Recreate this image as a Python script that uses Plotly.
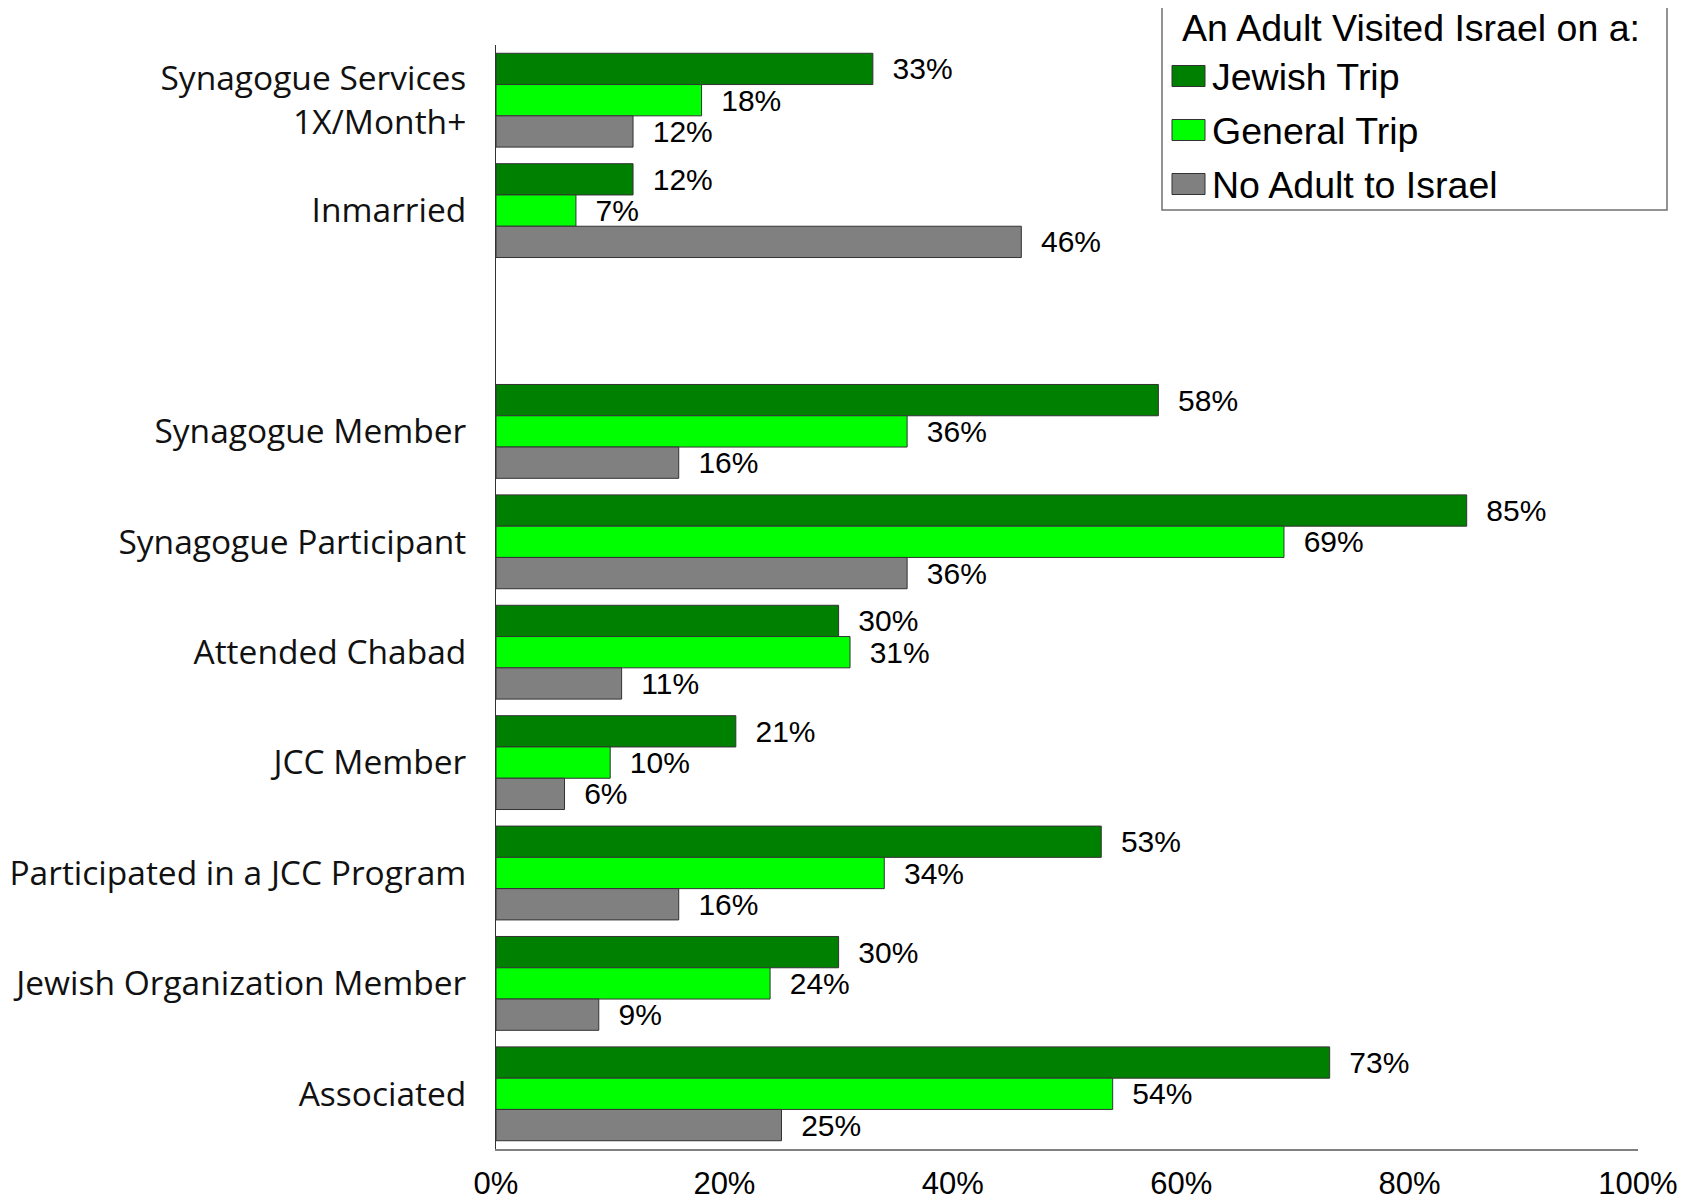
import plotly.graph_objects as go

categories = ["Synagogue Services<br>1X/Month+", "Inmarried", " ",
              "Synagogue Member", "Synagogue Participant", "Attended Chabad",
              "JCC Member", "Participated in a JCC Program",
              "Jewish Organization Member", "Associated"]
jewish_trip = [33, 12, None, 58, 85, 30, 21, 53, 30, 73]
general_trip = [18, 7, None, 36, 69, 31, 10, 34, 24, 54]
no_adult = [12, 46, None, 16, 36, 11, 6, 16, 9, 25]
series_names = ["Jewish Trip", "General Trip", "No Adult to Israel"]
legend_title = "An Adult Visited Israel on a:"
colors = ["#008000", "#00FF00", "#808080"]
x_ticks = [0, 20, 40, 60, 80, 100]

# page has an 8px body margin; figure drawn at (8, 8)
OFF = 8
W, H = 1694 - OFF, 1200 - OFF
PL, PR, PT, PB = 496 - OFF, 1638 - OFF, 45 - OFF, 1149 - OFF  # plot area in figure px


def px_x(x):  # window px -> paper x
    return (x - OFF - PL) / (PR - PL)


def px_y(y):  # window px -> paper y
    return (PB - (y - OFF)) / (PB - PT)


ARIAL = "Liberation Sans, Arial"

fig = go.Figure()
for name, vals, col in zip(series_names, [jewish_trip, general_trip, no_adult], colors):
    fig.add_trace(go.Bar(
        y=categories, x=vals, name=name, orientation="h",
        marker=dict(color=col, line=dict(color="#333333", width=1)),
        text=[("\u00a0\u00a0" + f"{v}%") if v is not None else "" for v in vals],
        textposition="outside", constraintext="none", cliponaxis=False,
        textfont=dict(family=ARIAL, size=30, color="black"),
        hoverinfo="skip", showlegend=False,
    ))

# legend box, swatches and labels
shapes = [dict(type="rect", xref="paper", yref="paper",
               x0=px_x(1162), x1=px_x(1667), y0=px_y(210), y1=px_y(4),
               line=dict(color="#707070", width=1.5), fillcolor="white", layer="above")]
annotations = [dict(xref="paper", yref="paper", x=px_x(1411), y=px_y(28),
                    xanchor="center", yanchor="middle", showarrow=False,
                    text=legend_title, font=dict(family=ARIAL, size=37.5, color="black"))]
row_centers = [76, 130, 184]
for name, col, yc in zip(series_names, colors, row_centers):
    shapes.append(dict(type="rect", xref="paper", yref="paper",
                       x0=px_x(1172), x1=px_x(1205), y0=px_y(yc + 10.5), y1=px_y(yc - 10.5),
                       line=dict(color="#333333", width=1), fillcolor=col, layer="above"))
    annotations.append(dict(xref="paper", yref="paper", x=px_x(1210), y=px_y(yc + 1),
                            xanchor="left", yanchor="middle", showarrow=False,
                            text=name, font=dict(family=ARIAL, size=37.5, color="black")))

fig.update_layout(
    width=W, height=H,
    paper_bgcolor="white", plot_bgcolor="white",
    margin=dict(l=PL, r=W - PR, t=PT, b=H - PB, pad=0, autoexpand=False),
    barmode="group", bargap=0.15, bargroupgap=0,
    font=dict(family=ARIAL, color="black"),
    showlegend=False,
    shapes=shapes, annotations=annotations,
    xaxis=dict(
        range=[0, 100], tickvals=x_ticks, ticktext=[f"{t}%" for t in x_ticks],
        showgrid=False, zeroline=False, showline=True, linecolor="#808080", linewidth=2,
        ticks="", ticklabelstandoff=6, automargin=False,
        tickfont=dict(family=ARIAL, size=31, color="black"),
    ),
    yaxis=dict(
        categoryorder="array", categoryarray=categories, range=[9.5, -0.5],
        showgrid=False, zeroline=False, showline=True, linecolor="#333333", linewidth=1,
        ticks="", ticklabelstandoff=22, automargin=False,
        tickfont=dict(family="Open Sans", size=33.5, color="#111111"),
    ),
)

fig.write_html("out.html")
